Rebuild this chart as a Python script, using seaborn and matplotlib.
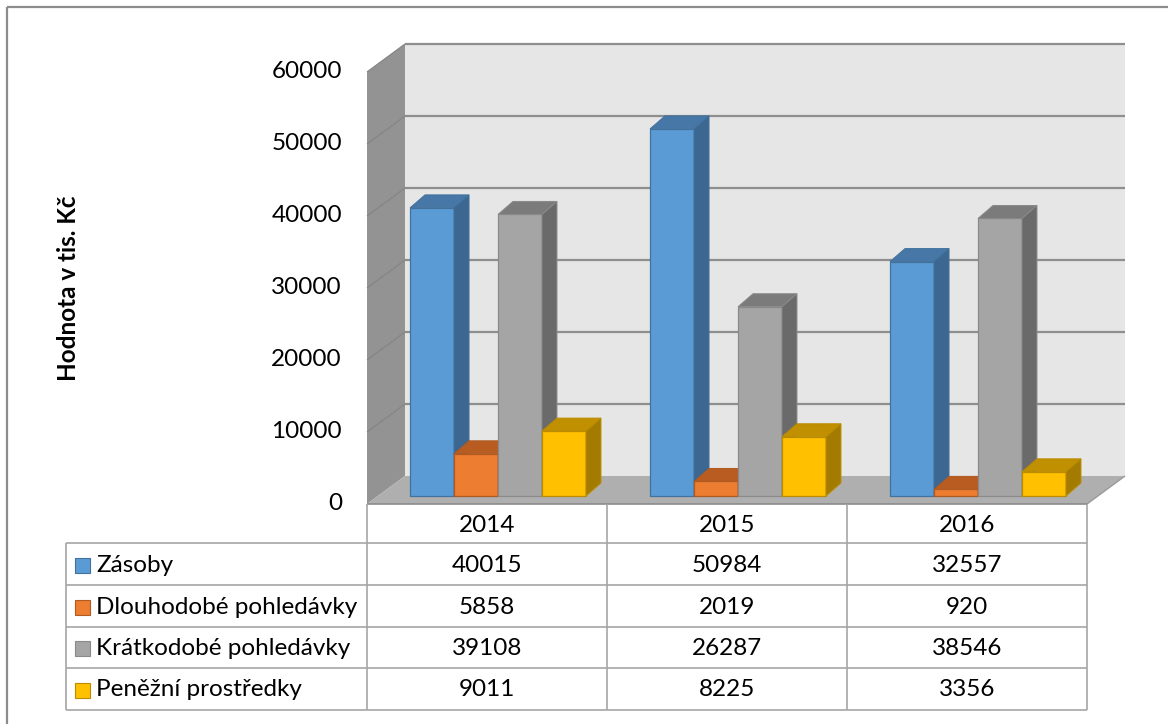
import numpy as np
import pandas as pd
import matplotlib
matplotlib.use("Agg")
import matplotlib.pyplot as plt
import seaborn as sns
from matplotlib.patches import Polygon, Rectangle
from matplotlib.lines import Line2D
from matplotlib.transforms import IdentityTransform

# ---------------- data ----------------
years = ["2014", "2015", "2016"]
series = ["Zásoby", "Dlouhodobé pohledávky", "Krátkodobé pohledávky", "Peněžní prostředky"]
zasoby = [40015, 50984, 32557]
dlouhodobe = [5858, 2019, 920]
kratkodobe = [39108, 26287, 38546]
penezni = [9011, 8225, 3356]
y_ticks = [0, 10000, 20000, 30000, 40000, 50000, 60000]
y_label = "Hodnota v tis. Kč"

# ---------------- styles ----------------
front_colors = ["#5B9BD5", "#ED7D31", "#A5A5A5", "#FFC000"]
edge_colors = ["#41719C", "#AE5A21", "#8A8A8A", "#BC8C00"]
top_colors = ["#4677A6", "#B85C22", "#7B7B7B", "#C09000"]
side_colors = ["#3B6791", "#A04F1C", "#6A6A6A", "#A37B00"]

sns.set_theme(style="white")
plt.rcParams["font.family"] = ["Lato", "DejaVu Sans"]

FS = 17.5

W, H = 1168, 724
DPI = 100
fig = plt.figure(figsize=(W / DPI, H / DPI), dpi=DPI)
fig.patch.set_facecolor("white")

# axes = front plane of the bars
ax = fig.add_axes([378 / W, (H - 496) / H, 720 / W, 432 / H])

values = [zasoby, dlouhodobe, kratkodobe, penezni]
rows = []
for s, vals in zip(series, values):
    for yr, v in zip(years, vals):
        rows.append({"Rok": yr, "Položka": s, "Hodnota": v})
df = pd.DataFrame(rows)

sns.barplot(data=df, x="Rok", y="Hodnota", hue="Položka", order=years,
            hue_order=series, palette=front_colors, width=0.733, gap=0,
            saturation=1, legend=False, ax=ax)
ax.set_xlim(-0.5, 2.5)
ax.set_ylim(0, 60000)
ax.set_autoscale_on(False)
ax.axis("off")

ID = IdentityTransform()


def D(x, y, ox=0.0, oy=0.0):
    px, py = ax.transData.transform((x, y))
    return (px + ox, py + oy)


def poly(pts, fc, ec="none", lw=0.0, z=1.0):
    ax.add_patch(Polygon(pts, closed=True, transform=ID, facecolor=fc,
                         edgecolor=ec, linewidth=lw, zorder=z, clip_on=False))


def line(p0, p1, color, lw, z=1.0):
    ax.add_line(Line2D([p0[0], p1[0]], [p0[1], p1[1]], transform=ID,
                       color=color, linewidth=lw, zorder=z, clip_on=False,
                       solid_capstyle="butt"))


BACK = (27, 20)     # offset of back wall from bar plane (px)
FRONT = (-11, -8)   # offset of floor front edge from bar plane (px)
DEPTH = (15, 13)    # bar depth (px)
x0d, x1d = -0.5, 2.5
ymax = y_ticks[-1]

# back wall
poly([D(x0d, 0, *BACK), D(x1d, 0, *BACK), D(x1d, ymax, *BACK), D(x0d, ymax, *BACK)],
     "#E6E6E6", z=0.1)
# side wall
poly([D(x0d, 0, *FRONT), D(x0d, 0, *BACK), D(x0d, ymax, *BACK), D(x0d, ymax, *FRONT)],
     "#939393", z=0.2)
# floor
poly([D(x0d, 0, *FRONT), D(x1d, 0, *FRONT), D(x1d, 0, *BACK), D(x0d, 0, *BACK)],
     "#AFAFAF", z=0.3)
line(D(x0d, 0, *FRONT), D(x1d, 0, *FRONT), "#8C8C8C", 1.2, z=0.35)
line(D(x1d, 0, *FRONT), D(x1d, 0, *BACK), "#9A9A9A", 1.0, z=0.35)

# gridlines on back and side walls + tick labels
for t in y_ticks:
    if t > 0:
        line(D(x0d, t, *BACK), D(x1d, t, *BACK), "#8E8E8E", 1.6, z=0.25)
        line(D(x0d, t, *FRONT), D(x0d, t, *BACK), "#858585", 0.9, z=0.25)
    px, py = D(x0d, t, FRONT[0] - 25, FRONT[1] + 1)
    ax.text(px, py, f"{t}", transform=ID, ha="right", va="center",
            fontsize=FS, color="#000000", clip_on=False)

# 3D faces for bars
for hi, cont in enumerate(ax.containers):
    for ci, bar in enumerate(cont):
        xa = bar.get_x()
        xb = xa + bar.get_width()
        h = bar.get_height()
        order = ci * 4 + hi
        zb = 2 + order
        bar.set_edgecolor(edge_colors[hi])
        bar.set_linewidth(0.9)
        bar.set_zorder(zb)
        bar.set_clip_on(False)
        # top face
        poly([D(xa, h), D(xb, h), D(xb, h, *DEPTH), D(xa, h, *DEPTH)],
             top_colors[hi], edge_colors[hi], 0.7, z=zb + 0.5)
        # side face
        poly([D(xb, 0), D(xb, 0, *DEPTH), D(xb, h, *DEPTH), D(xb, h)],
             side_colors[hi], edge_colors[hi], 0.7, z=zb + 0.5)

# ---------------- data table ----------------
tbl_color = "#A6A6A6"
img = lambda y: H - y  # image y -> display y
row_edges = [543, 585, 627, 668, 710]
tbl_left = 66
col_edges = [D(c - 0.5, 0, *FRONT)[0] for c in range(len(years) + 1)]
tbl_right = col_edges[-1]

for xe in col_edges:
    line((xe, img(504)), (xe, img(row_edges[-1])), tbl_color, 1.2, z=0.4)
line((tbl_left, img(row_edges[0])), (tbl_left, img(row_edges[-1])), tbl_color, 1.2, z=0.4)
for ye in row_edges:
    line((tbl_left, img(ye)), (tbl_right, img(ye)), tbl_color, 1.2, z=0.4)

# header
for i, yr in enumerate(years):
    cx = D(i, 0, *FRONT)[0]
    ax.text(cx, img(526), yr, transform=ID, ha="center", va="center",
            fontsize=FS, color="black", clip_on=False)

# rows
for r, (s, vals) in enumerate(zip(series, values)):
    cy = img((row_edges[r] + row_edges[r + 1]) / 2 + 1)
    ax.add_patch(Rectangle((75, cy - 7.5), 15, 15, transform=ID,
                           facecolor=front_colors[r], edgecolor=edge_colors[r],
                           linewidth=0.8, clip_on=False, zorder=0.5))
    ax.text(96, cy, s, transform=ID, ha="left", va="center", fontsize=FS,
            color="black", clip_on=False)
    for i, v in enumerate(vals):
        cx = D(i, 0, *FRONT)[0]
        ax.text(cx, cy, f"{v}", transform=ID, ha="center", va="center",
                fontsize=FS, color="black", clip_on=False)

# y axis label
ax.text(68, img(288), y_label, transform=ID, ha="center", va="center",
        rotation=90, fontsize=17.5, fontweight="bold", color="black", clip_on=False)

# outer chart border (left & top visible)
line((7, img(7)), (7, 0), "#8C8C8C", 1.6, z=0.05)
line((7, img(7)), (W, img(7)), "#8C8C8C", 1.6, z=0.05)

fig.savefig("out.png", dpi=DPI)
